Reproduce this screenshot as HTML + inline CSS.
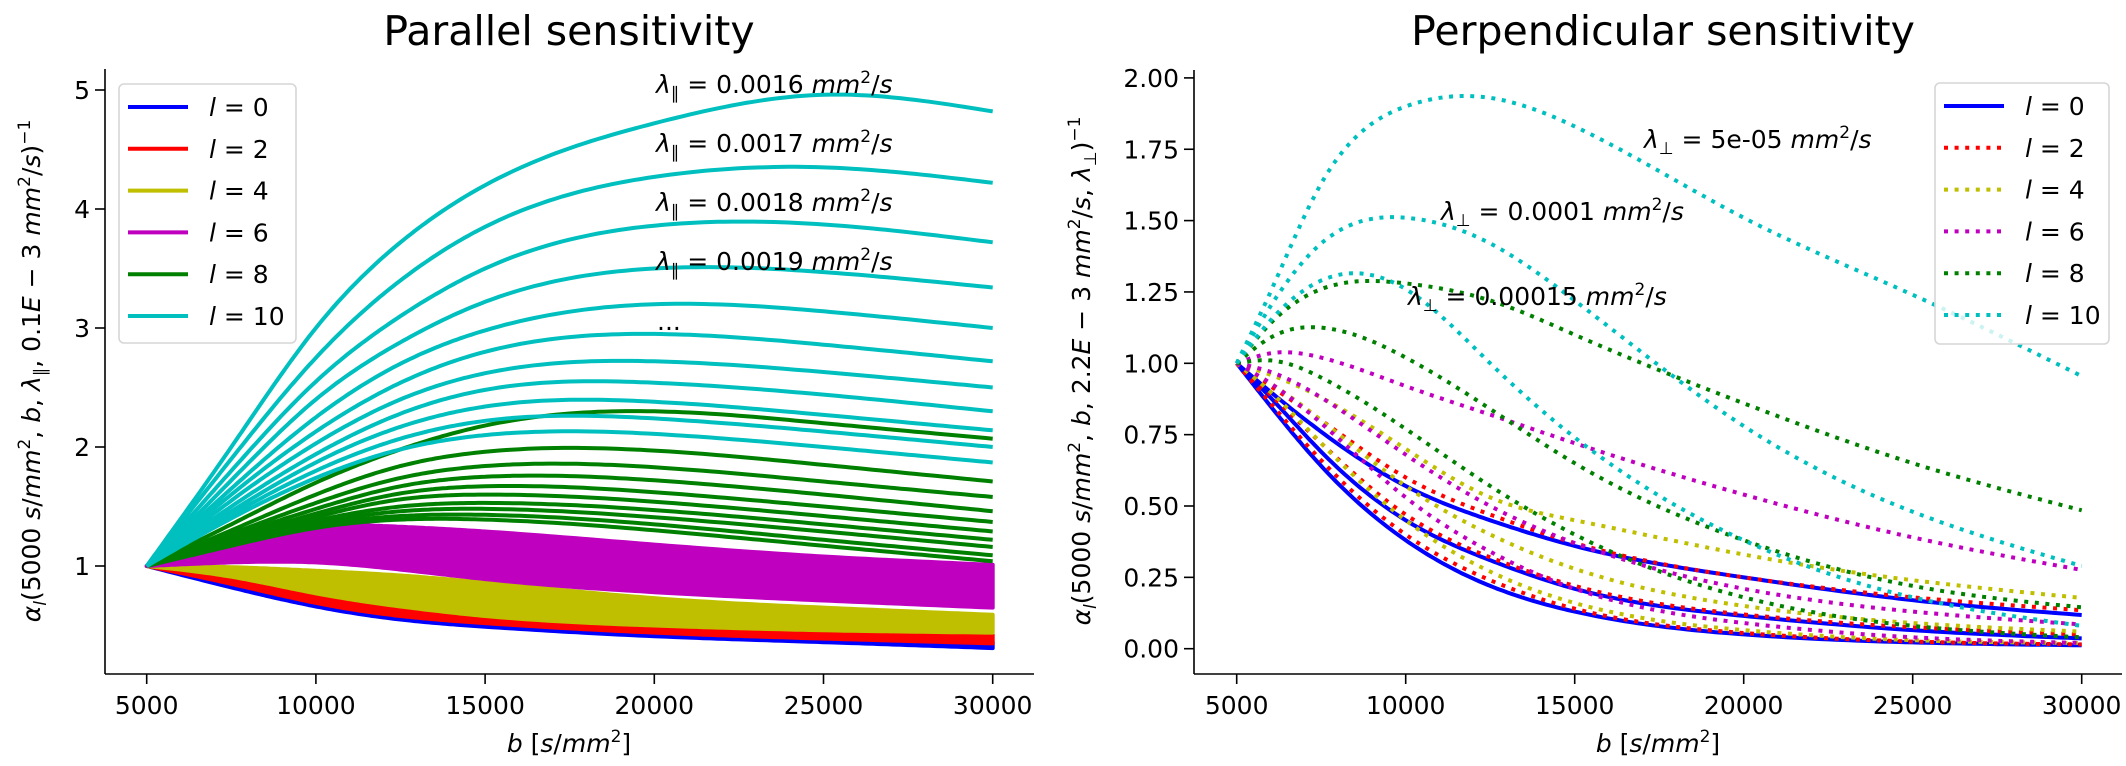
<!DOCTYPE html>
<html><head><meta charset="utf-8">
<style>
html,body{margin:0;padding:0;background:#fff;}
svg{display:block;font-family:"DejaVu Sans","Liberation Sans",sans-serif;}
.t{font-size:25px;fill:#000;}
.it{font-style:italic;}
</style></head>
<body>
<svg id="fig" width="2126" height="766" viewBox="0 0 2126 766" xmlns="http://www.w3.org/2000/svg">
  <rect x="0" y="0" width="2126" height="766" fill="#fff"/>
  <g id="left"></g>
  <g id="right"></g>

  <text x="569" y="45" font-size="41" text-anchor="middle">Parallel sensitivity</text>
  <text x="1663" y="45" font-size="41" text-anchor="middle">Perpendicular sensitivity</text>

  <text class="t" x="569" y="752" text-anchor="middle"><tspan class="it">b</tspan> [<tspan class="it">s</tspan>/<tspan class="it">mm</tspan><tspan font-size="17" dy="-10">2</tspan><tspan dy="10">]</tspan></text>
  <text class="t" x="1658" y="752" text-anchor="middle"><tspan class="it">b</tspan> [<tspan class="it">s</tspan>/<tspan class="it">mm</tspan><tspan font-size="17" dy="-10">2</tspan><tspan dy="10">]</tspan></text>

  <text class="t" transform="translate(40,371) rotate(-90)" text-anchor="middle"><tspan class="it">α</tspan><tspan class="it" font-size="17" dy="6">l</tspan><tspan dy="-6">(5000 </tspan><tspan class="it">s</tspan>/<tspan class="it">mm</tspan><tspan font-size="17" dy="-10">2</tspan><tspan dy="10">, </tspan><tspan class="it">b</tspan>, <tspan class="it">λ</tspan><tspan font-size="17" dy="6">∥</tspan><tspan dy="-6">, 0.1</tspan><tspan class="it">E</tspan> − 3 <tspan class="it">mm</tspan><tspan font-size="17" dy="-10">2</tspan><tspan dy="10">/</tspan><tspan class="it">s</tspan>)<tspan font-size="17" dy="-10">−1</tspan></text>
  <text class="t" transform="translate(1090,371) rotate(-90)" text-anchor="middle"><tspan class="it">α</tspan><tspan class="it" font-size="17" dy="6">l</tspan><tspan dy="-6">(5000 </tspan><tspan class="it">s</tspan>/<tspan class="it">mm</tspan><tspan font-size="17" dy="-10">2</tspan><tspan dy="10">, </tspan><tspan class="it">b</tspan>, 2.2<tspan class="it">E</tspan> − 3 <tspan class="it">mm</tspan><tspan font-size="17" dy="-10">2</tspan><tspan dy="10">/</tspan><tspan class="it">s</tspan>, <tspan class="it">λ</tspan><tspan font-size="17" dy="6">⊥</tspan><tspan dy="-6">)</tspan><tspan font-size="17" dy="-10">−1</tspan></text>
</svg>
<script>
// ---------- data ----------
const bSamples = [5000, 7500, 10000, 12500, 15000, 20000, 25000, 30000];
const xTicks = [5000, 10000, 15000, 20000, 25000, 30000];
const leftYTicks = [1, 2, 3, 4, 5];
const rightYTicks = [0, 0.25, 0.5, 0.75, 1.0, 1.25, 1.5, 1.75, 2.0];
const rightYTickLabels = ["0.00","0.25","0.50","0.75","1.00","1.25","1.50","1.75","2.00"];
const legendLabels = ["0","2","4","6","8","10"];
const lColors = ["#0000ff","#ff0000","#bfbf00","#bf00bf","#008000","#00bfbf"];

// left: bands (envelopes) for l=0..6
const blueUpper = [1,0.85,0.69,0.58,0.52,0.44,0.39,0.36];
const blueLower = [1,0.82,0.66,0.55,0.49,0.41,0.36,0.31];
const redUpper = [1,0.88,0.74,0.63,0.56,0.48,0.44,0.42];
const redLower = [1,0.85,0.69,0.58,0.52,0.44,0.39,0.35];
const yellowUpper = [1,0.99,0.96,0.92,0.86,0.73,0.65,0.59];
const yellowLower = [1,0.91,0.77,0.66,0.58,0.50,0.46,0.44];
const magentaUpper = [1,1.2,1.33,1.33,1.29,1.18,1.08,1.01];
const magentaLower = [1,1.03,1.03,0.97,0.89,0.78,0.71,0.65];
// left: green curves l=8
const greenCurves = [
 [1,1.35,1.7,1.98,2.18,2.3,2.2,2.07],
 [1,1.3,1.6,1.84,1.96,1.97,1.85,1.71],
 [1,1.27,1.53,1.74,1.84,1.83,1.71,1.58],
 [1,1.25,1.48,1.67,1.75,1.72,1.6,1.46],
 [1,1.23,1.44,1.61,1.67,1.62,1.5,1.37],
 [1,1.21,1.41,1.56,1.6,1.54,1.42,1.29],
 [1,1.2,1.38,1.5,1.53,1.47,1.35,1.22],
 [1,1.19,1.36,1.46,1.48,1.41,1.29,1.16],
 [1,1.18,1.34,1.42,1.43,1.35,1.22,1.09],
 [1,1.17,1.32,1.39,1.39,1.3,1.17,1.04]
];
// left: cyan curves l=10
const cyanCurves = [
 [1,2.0,3.0,3.72,4.2,4.72,4.96,4.82],
 [1,1.9,2.75,3.4,3.85,4.27,4.35,4.22],
 [1,1.8,2.55,3.1,3.5,3.86,3.87,3.72],
 [1,1.72,2.4,2.88,3.22,3.5,3.47,3.34],
 [1,1.65,2.25,2.7,2.98,3.2,3.14,3.0],
 [1,1.6,2.13,2.54,2.8,2.95,2.86,2.72],
 [1,1.55,2.03,2.4,2.62,2.72,2.63,2.50],
 [1,1.5,1.94,2.28,2.48,2.54,2.44,2.30],
 [1,1.46,1.87,2.17,2.34,2.38,2.27,2.14],
 [1,1.43,1.8,2.07,2.22,2.24,2.13,2.0],
 [1,1.4,1.74,1.98,2.1,2.11,2.0,1.87]
];
const leftAnnotations = ["0.0016","0.0017","0.0018","0.0019"];

// right: b samples and curves per l (3 lambdas each)
const bSamplesR = [5000, 6000, 7500, 10000, 12500, 15000, 20000, 25000, 30000];
const perpL0 = [[1,0.9,0.76,0.57,0.45,0.36,0.25,0.17,0.118],[1,0.88,0.69,0.45,0.31,0.21,0.115,0.065,0.036],[1,0.85,0.64,0.38,0.22,0.13,0.05,0.022,0.012]];
const perpL2 = [[1,0.92,0.80,0.60,0.47,0.37,0.25,0.18,0.135],[1,0.89,0.72,0.47,0.32,0.22,0.12,0.075,0.05],[1,0.86,0.66,0.40,0.24,0.14,0.055,0.025,0.015]];
const perpL4 = [[1,0.96,0.88,0.70,0.53,0.45,0.33,0.24,0.178],[1,0.93,0.80,0.57,0.40,0.28,0.15,0.09,0.06],[1,0.9,0.72,0.45,0.27,0.16,0.065,0.03,0.02]];
const perpL6 = [[1,1.035,1.02,0.92,0.82,0.72,0.54,0.39,0.276],[1,0.97,0.88,0.68,0.50,0.37,0.21,0.13,0.085],[1,0.93,0.79,0.53,0.34,0.21,0.09,0.04,0.02]];
const perpL8 = [[1,1.14,1.26,1.28,1.22,1.1,0.86,0.65,0.485],[1,1.09,1.125,1.02,0.84,0.65,0.38,0.22,0.145],[1,1.01,0.95,0.77,0.57,0.40,0.18,0.08,0.04]];
const perpL10 = [[1,1.25,1.63,1.90,1.93,1.83,1.51,1.24,0.955],[1,1.2,1.42,1.51,1.42,1.22,0.78,0.48,0.29],[1,1.15,1.29,1.26,1.00,0.74,0.38,0.18,0.08]];
const rightAnnotations = ["5e-05","0.0001","0.00015"];

// ---------- axes ----------
const NS="http://www.w3.org/2000/svg";
const xL = b => 146.7 + (b-5000)/5000*169.2;
const yL = v => 566 - (v-1)*119;
const xR = b => 1236.7 + (b-5000)/5000*169;
const yR = v => 648.7 - v*285.4;

function mk(tag, attrs, parent){const e=document.createElementNS(NS,tag);for(const k in attrs)e.setAttribute(k,attrs[k]);parent.appendChild(e);return e;}

// natural cubic spline interpolation
function interp(xs, ys, n){
  const m=xs.length, h=[], al=[], l=new Array(m).fill(1), mu=new Array(m).fill(0), z=new Array(m).fill(0), c=new Array(m).fill(0), bb=[], dd=[];
  for(let i=0;i<m-1;i++)h.push(xs[i+1]-xs[i]);
  for(let i=1;i<m-1;i++)al[i]=3/h[i]*(ys[i+1]-ys[i])-3/h[i-1]*(ys[i]-ys[i-1]);
  for(let i=1;i<m-1;i++){l[i]=2*(xs[i+1]-xs[i-1])-h[i-1]*mu[i-1];mu[i]=h[i]/l[i];z[i]=(al[i]-h[i-1]*z[i-1])/l[i];}
  for(let j=m-2;j>=0;j--){c[j]=z[j]-mu[j]*c[j+1];bb[j]=(ys[j+1]-ys[j])/h[j]-h[j]*(c[j+1]+2*c[j])/3;dd[j]=(c[j+1]-c[j])/(3*h[j]);}
  const out=[];
  for(let i=0;i<m-1;i++){for(let j=0;j<n;j++){const dx=j/n*h[i];out.push([xs[i]+dx,ys[i]+bb[i]*dx+c[i]*dx*dx+dd[i]*dx*dx*dx]);}}
  out.push([xs[m-1],ys[m-1]]);return out;
}
function pathD(bs, vs, fx, fy){return interp(bs,vs,24).map((p,i)=>(i?'L':'M')+fx(p[0]).toFixed(1)+','+fy(p[1]).toFixed(1)).join('');}

function axes(g, x0, x1, yTop, yBot, fx, fy, yt, ytl, name){
  for(const b of xTicks){
    const t=mk('line',{x1:fx(b),x2:fx(b),y1:yBot,y2:yBot+10,stroke:'#000','stroke-width':1.6},g);
    
    
    const l=mk('text',{x:fx(b),y:yBot+40,'text-anchor':'middle',class:'t'},g);l.textContent=b;
    
    
  }
  yt.forEach((v,i)=>{
    const t=mk('line',{x1:x0-10,x2:x0,y1:fy(v),y2:fy(v),stroke:'#000','stroke-width':1.6},g);
    
    
    const l=mk('text',{x:x0-15,y:fy(v)+9,'text-anchor':'end',class:'t'},g);l.textContent=ytl[i];
    
    
  });
  const s1=mk('line',{x1:x0,x2:x0,y1:yTop,y2:yBot,stroke:'#000','stroke-width':1.6},g);
  
  
  const s2=mk('line',{x1:x0,x2:x1,y1:yBot,y2:yBot,stroke:'#000','stroke-width':1.6},g);
  
  
}

function legend(g, x, y, w, h, dotted){
  const box=mk('rect',{x:x,y:y,width:w,height:h,rx:5,fill:'#fff','fill-opacity':0.8,stroke:'#d6d6d6','stroke-width':1.6},g);
  
  
  legendLabels.forEach((lab,i)=>{
    const yy=y+23+i*41.8;
    const ln=mk('line',{x1:x+9,x2:x+69,y1:yy,y2:yy,stroke:lColors[i],'stroke-width':4},g);
    if(dotted && i>0){ln.setAttribute('stroke-dasharray','4,6.6');}
    
    
    const t=mk('text',{x:x+90,y:yy+9,class:'t'},g);
    t.innerHTML='<tspan font-style="italic">l</tspan> = '+lab;
    
    
  });
}

// ---------- left chart ----------
const gL=document.getElementById('left');
const bands=[[blueUpper,blueLower,0],[redUpper,redLower,1],[yellowUpper,yellowLower,2],[magentaUpper,magentaLower,3]];
for(const [up,lo,ci] of bands){
  const pu=interp(bSamples,up,24), pl=interp(bSamples,lo,24).reverse();
  const d=pu.concat(pl).map((p,i)=>(i?'L':'M')+xL(p[0]).toFixed(1)+','+yL(p[1]).toFixed(1)).join('')+'Z';
  const poly=mk('path',{d:d,fill:lColors[ci],stroke:lColors[ci],'stroke-width':4,'stroke-linejoin':'round'},gL);
  
  
}
greenCurves.forEach((c,i)=>{
  const p=mk('path',{d:pathD(bSamples,c,xL,yL),fill:'none',stroke:lColors[4],'stroke-width':4},gL);
  
  
});
cyanCurves.forEach((c,i)=>{
  const p=mk('path',{d:pathD(bSamples,c,xL,yL),fill:'none',stroke:lColors[5],'stroke-width':4},gL);
  
  
});
axes(gL,105,1034,69,674,xL,yL,leftYTicks,leftYTicks.map(String),'left');
leftAnnotations.forEach((v,i)=>{
  const t=mk('text',{x:656,y:93+i*59,class:'t'},gL);
  t.innerHTML='<tspan font-style="italic">λ</tspan><tspan font-size="17" dy="6">∥</tspan><tspan dy="-6"> = '+v+' </tspan><tspan font-style="italic">mm</tspan><tspan font-size="17" dy="-10">2</tspan><tspan dy="10">/</tspan><tspan font-style="italic">s</tspan>';
  
  
});
const dots=mk('text',{x:657,y:330,class:'t'},gL);dots.textContent='...';


legend(gL,119,84,177,259,false);

// ---------- right chart ----------
const gR=document.getElementById('right');
const perpAll=[perpL0,perpL2,perpL4,perpL6,perpL8,perpL10];
perpAll.forEach((group,li)=>{
  group.forEach((c,k)=>{
    const p=mk('path',{d:pathD(bSamplesR,c,xR,yR),fill:'none',stroke:lColors[li],'stroke-width':4},gR);
    if(li>0)p.setAttribute('stroke-dasharray','4,6.6');
    
    
  });
});
axes(gR,1194,2122,70,674,xR,yR,rightYTicks,rightYTickLabels,'right');
const annPos=[[1644,148],[1441,220],[1408,305]];
rightAnnotations.forEach((v,i)=>{
  const t=mk('text',{x:annPos[i][0],y:annPos[i][1],class:'t'},gR);
  t.innerHTML='<tspan font-style="italic">λ</tspan><tspan font-size="17" dy="6">⊥</tspan><tspan dy="-6"> = '+v+' </tspan><tspan font-style="italic">mm</tspan><tspan font-size="17" dy="-10">2</tspan><tspan dy="10">/</tspan><tspan font-style="italic">s</tspan>';
  
  
});
legend(gR,1935,83,174,261,true);
</script>
</body></html>
